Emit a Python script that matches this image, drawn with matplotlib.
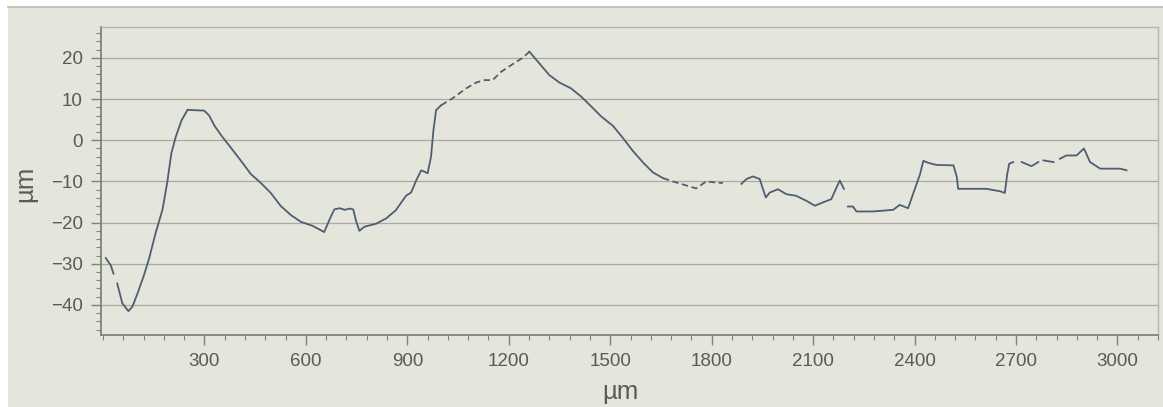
import numpy as np
import matplotlib.pyplot as plt
from matplotlib.patches import Rectangle
from matplotlib.ticker import MultipleLocator

nan = np.nan

# surface profile, position (µm) and height (µm); NaN marks dropouts
profile_x = [8, 23, 31, nan, 42, 57, 75, 87, 102, 121, 136, 156, 176, 190, 202,
             215, 232, 250, 269, 299, 314, 329, 353, 378, 408, 437, 467, 496,
             526, 556, 585, 620, 654, 674, 684, 700, 715, 730, 740, 748, 758,
             773, 807, 837, 866, 896, 911, 926, 941, 960, 970, 977, 985, 1000,
             1034, 1074, 1103, 1128, 1152, 1177, 1212, 1241, 1261, 1291, 1320,
             1350, 1384, 1414, 1444, 1473, 1508, 1537, 1567, 1597, 1626, 1656,
             1685, 1725, 1754, 1784, 1804, 1833, nan, 1888, 1903, 1922, 1942,
             1960, 1972, 1996, 2021, 2050, 2080, 2105, 2129, 2154, 2169, 2179,
             2191, nan, 2203, 2218, 2228, 2277, 2337, 2356, 2381, 2396, 2416,
             2426, 2441, 2465, 2515, 2525, 2529, 2564, 2613, 2653, 2667, 2674,
             2680, 2692, nan, 2717, 2746, 2766, nan, 2781, 2811, nan, 2830, 2849,
             2879, 2901, 2919, 2949, 2978, 3008, 3027]
profile_y = [-28.6, -30.4, -32.4, nan, -34.8, -39.6, -41.5, -40.4, -37.2, -32.8,
             -28.8, -22.4, -16.8, -10.2, -3.2, 0.8, 4.8, 7.4, 7.3, 7.2, 6.0, 3.6,
             0.8, -1.8, -5.0, -8.2, -10.4, -12.8, -16.0, -18.2, -19.8, -20.8,
             -22.3, -18.5, -16.8, -16.5, -16.9, -16.6, -16.8, -19.5, -22.0, -21.0,
             -20.3, -19.0, -17.0, -13.5, -12.7, -9.8, -7.3, -8.0, -4.0, 2.3, 7.3,
             8.5, 10.2, 12.6, 14.0, 14.6, 14.6, 16.6, 18.5, 20.0, 21.5, 18.6,
             15.8, 14.0, 12.6, 10.6, 8.2, 5.8, 3.5, 0.6, -2.6, -5.4, -7.8, -9.2,
             -10.0, -11.0, -11.7, -10.0, -10.2, -10.4, nan, -10.6, -9.4, -8.8,
             -9.4, -13.9, -12.7, -11.9, -13.1, -13.5, -14.7, -15.9, -15.1, -14.3,
             -11.5, -9.8, -11.8, nan, -16.1, -16.1, -17.3, -17.3, -16.9, -15.7,
             -16.5, -13.0, -8.3, -5.0, -5.5, -6.0, -6.1, -8.9, -11.8, -11.8,
             -11.8, -12.4, -12.8, -8.3, -5.7, -5.3, nan, -5.3, -6.3, -5.3, nan,
             -4.9, -5.3, nan, -4.5, -3.7, -3.7, -2.0, -5.3, -6.9, -6.9, -6.9, -7.3]

# stretches where the scan only returned sparse points
sparse_spans = [(1000, 1261), (1656, 1833)]

x_ticks = [300, 600, 900, 1200, 1500, 1800, 2100, 2400, 2700, 3000]
y_ticks = [20, 10, 0, -10, -20, -30, -40]

bg = "#e4e5db"
grid_c = "#a9aba1"
spine_c = "#7f8478"
text_c = "#595c55"
line_c = "#4f5e72"

plt.rcParams["font.family"] = ["Liberation Sans", "DejaVu Sans"]

fig = plt.figure(figsize=(11.63, 4.07), dpi=100, facecolor="white")
fig.add_artist(Rectangle((8 / 1163, 0), 1, 1 - 7 / 407, transform=fig.transFigure,
                         facecolor=bg, edgecolor="none", zorder=-10))
fig.add_artist(plt.Line2D([8 / 1163, 1], [1 - 7 / 407] * 2, transform=fig.transFigure,
                          color="#b9bbb2", lw=1.2))

ax = fig.add_axes([101 / 1163, 1 - 335 / 407, 1057 / 1163, 308 / 407])
ax.set_facecolor(bg)

px = np.array(profile_x, dtype=float)
py = np.array(profile_y, dtype=float)
inside = np.zeros(len(px), dtype=bool)
covered = np.zeros(len(px), dtype=bool)
for a, b in sparse_spans:
    inside |= (px > a) & (px < b)
    covered |= (px >= a) & (px <= b)

ax.plot(px, np.where(inside, nan, py), color=line_c, lw=1.3, zorder=3)
ax.plot(px, np.where(covered, py, nan), color=line_c, lw=1.3, ls=(0, (3.5, 2)), zorder=3)

ax.set_xlim(-6, 3120)
ax.set_ylim(-47.3, 27.5)
ax.set_xticks(x_ticks)
ax.set_yticks(y_ticks)
ax.xaxis.set_minor_locator(MultipleLocator(60))
ax.yaxis.set_minor_locator(MultipleLocator(2))
ax.grid(axis="y", which="major", color=grid_c, lw=0.9)
ax.tick_params(which="major", length=7, width=1, color=spine_c, labelcolor=text_c,
               labelsize=13.5, pad=6)
ax.tick_params(which="minor", length=3.5, width=0.8, color=spine_c)

for side in ("left", "bottom"):
    ax.spines[side].set_color(spine_c)
    ax.spines[side].set_linewidth(1.3)
for side in ("top", "right"):
    ax.spines[side].set_color("#b5b7ad")
    ax.spines[side].set_linewidth(1.0)

ax.set_xlabel("µm", fontsize=18.5, color=text_c)
ax.set_ylabel("µm", fontsize=18.5, color=text_c)
ax.xaxis.set_label_coords(0.491, -0.145)
ax.yaxis.set_label_coords(-0.06, 0.49)

fig.savefig("out.png", dpi=100, facecolor=fig.get_facecolor())
